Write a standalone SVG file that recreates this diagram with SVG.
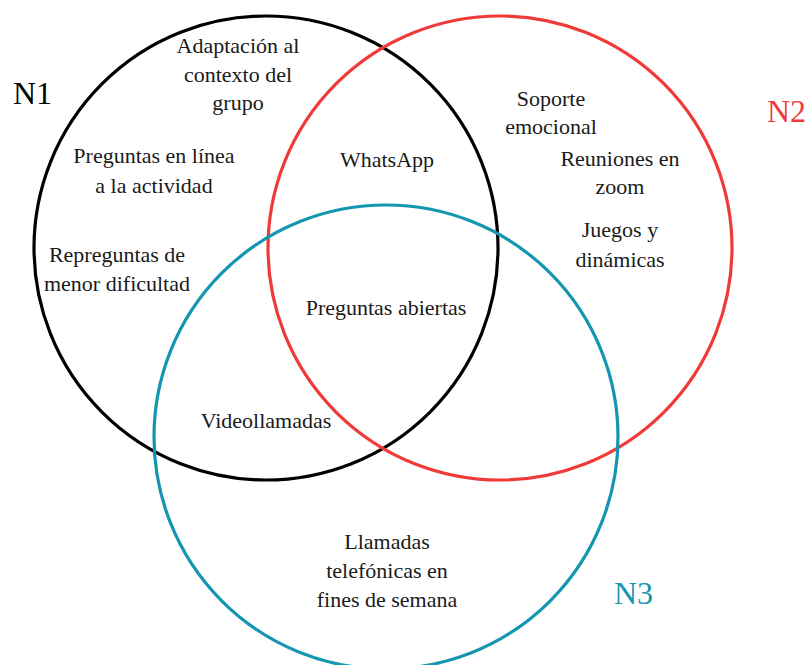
<svg xmlns="http://www.w3.org/2000/svg" width="808" height="665" viewBox="0 0 808 665">
<style>
.c{fill:none;stroke-width:3.2}
.t{font-size:22px;fill:#1a1a1a;text-anchor:middle}
.lab{font-size:32px;text-anchor:start}
</style>
<rect width="808" height="665" fill="#ffffff"/>
<g id="connectors"></g>
<g font-family="'Liberation Serif', 'DejaVu Serif', serif">
<g id="n1">
<circle class="c" cx="266" cy="248" r="232" stroke="#000000"/>
<text class="lab" x="13" y="104" fill="#000000">N1</text>
</g>
<g id="n2">
<circle class="c" cx="500" cy="248" r="232" stroke="#f03a3a"/>
<text class="lab" x="767" y="122" fill="#f03a3a">N2</text>
</g>
<g id="n3">
<circle class="c" cx="386" cy="437" r="232" stroke="#1596b0"/>
<text class="lab" x="614" y="604" fill="#1596b0">N3</text>
</g>
<g id="labels">
<text class="t" x="238" y="53">Adaptación al</text>
<text class="t" x="238" y="82">contexto del</text>
<text class="t" x="238" y="110">grupo</text>
<text class="t" x="154" y="163">Preguntas en línea</text>
<text class="t" x="154" y="193">a la actividad</text>
<text class="t" x="117" y="262">Repreguntas de</text>
<text class="t" x="117" y="291">menor dificultad</text>
<text class="t" x="387" y="167">WhatsApp</text>
<text class="t" x="386" y="315">Preguntas abiertas</text>
<text class="t" x="551" y="106">Soporte</text>
<text class="t" x="551" y="134">emocional</text>
<text class="t" x="620" y="166">Reuniones en</text>
<text class="t" x="620" y="194">zoom</text>
<text class="t" x="620" y="237">Juegos y</text>
<text class="t" x="620" y="267">dinámicas</text>
<text class="t" x="266" y="428">Videollamadas</text>
<text class="t" x="387" y="549">Llamadas</text>
<text class="t" x="387" y="578">telefónicas en</text>
<text class="t" x="387" y="607">fines de semana</text>
</g>
</g>
</svg>
